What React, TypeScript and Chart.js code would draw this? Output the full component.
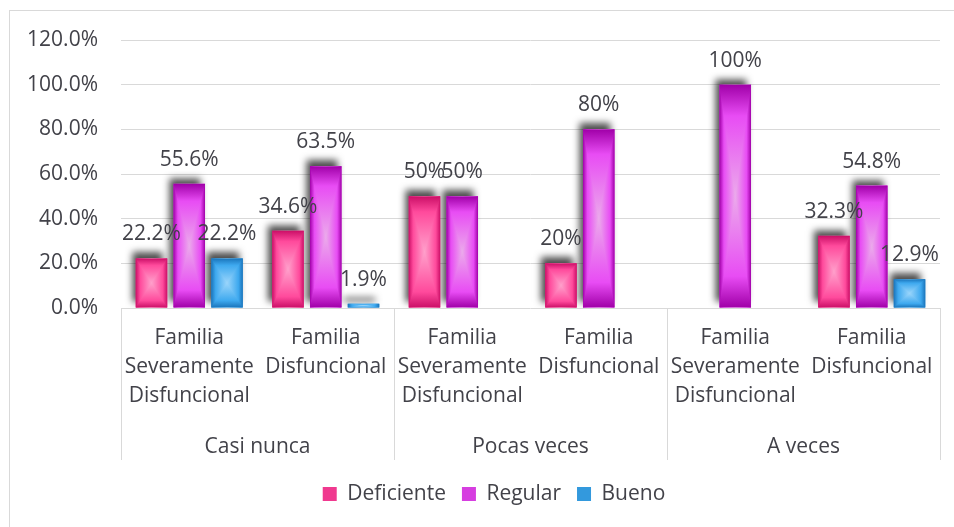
import React, { useEffect, useRef } from "react";
import { Chart, registerables } from "chart.js";

Chart.register(...registerables);

// ---- data ----
const subCategories: string[][] = [
  ["Familia", "Severamente", "Disfuncional"],
  ["Familia", "Disfuncional"],
  ["Familia", "Severamente", "Disfuncional"],
  ["Familia", "Disfuncional"],
  ["Familia", "Severamente", "Disfuncional"],
  ["Familia", "Disfuncional"],
];
const groups = ["Casi nunca", "Pocas veces", "A veces"];
const seriesNames = ["Deficiente", "Regular", "Bueno"];
const deficiente: (number | null)[] = [22.2, 34.6, 50, 20, null, 32.3];
const regular: (number | null)[] = [55.6, 63.5, 50, 80, 100, 54.8];
const bueno: (number | null)[] = [22.2, 1.9, null, null, null, 12.9];
const yMin = 0;
const yMax = 120;
const yStep = 20;

// ---- styles ----
const FONT = "'Open Sans', sans-serif";
const FONT_SIZE = 21;
const TEXT = "#424249";
const GRID = "#d9d9d9";
// [center, mid, edge]
const palettes: string[][] = [
  ["#ffa0cb", "#ff4a9c", "#cb0f67"],
  ["#ebaaeb", "#e84cf4", "#a000a8"],
  ["#9ad5fb", "#3ea9ef", "#1a74bb"],
];
const legendColors = ["#f0398f", "#d63ee0", "#3399dd"];
const STOP_MID = 0.72;

const fmt = (v: number) => (Number.isInteger(v) ? `${v}%` : `${v.toFixed(1)}%`);

function symGradient(ctx: CanvasRenderingContext2D, x0: number, y0: number, x1: number, y1: number, s: string[]) {
  const g = ctx.createLinearGradient(x0, y0, x1, y1);
  g.addColorStop(0, s[2]);
  g.addColorStop((1 - STOP_MID) / 2, s[1]);
  g.addColorStop(0.5, s[0]);
  g.addColorStop((1 + STOP_MID) / 2, s[1]);
  g.addColorStop(1, s[2]);
  return g;
}

// rectangular "path" gradient: contours are rectangles similar to the bar
function pathGradientRect(ctx: CanvasRenderingContext2D, L: number, T: number, R: number, B: number, s: string[]) {
  const w = R - L;
  const h = B - T;
  if (w <= 0 || h <= 0) return;
  const cx = L + w / 2;
  const cy = T + h / 2;
  ctx.save();
  ctx.fillStyle = symGradient(ctx, L, 0, R, 0, s);
  ctx.fillRect(L, T, w, h);
  ctx.beginPath();
  ctx.moveTo(L, T);
  ctx.lineTo(R, T);
  ctx.lineTo(cx, cy);
  ctx.closePath();
  ctx.moveTo(L, B);
  ctx.lineTo(R, B);
  ctx.lineTo(cx, cy);
  ctx.closePath();
  ctx.clip();
  ctx.fillStyle = symGradient(ctx, 0, T, 0, B, s);
  ctx.fillRect(L, T, w, h);
  ctx.restore();
}

const barStylePlugin = {
  id: "barStyle",
  afterLayout(chart: any) {
    const lg = chart.legend;
    if (lg) {
      lg.left += 24;
      lg.right += 24;
    }
  },
  beforeDatasetsDraw(chart: any) {
    const ctx = chart.ctx;
    ctx.save();
    ctx.shadowColor = "rgba(0,0,0,0.7)";
    ctx.shadowBlur = 7;
    ctx.shadowOffsetX = -4;
    ctx.shadowOffsetY = -6;
  },
  afterDatasetsDraw(chart: any) {
    const ctx = chart.ctx;
    ctx.restore();
    chart.data.datasets.forEach((ds: any, di: number) => {
      const meta = chart.getDatasetMeta(di);
      if (meta.hidden) return;
      meta.data.forEach((el: any, i: number) => {
        const v = ds.data[i];
        if (v == null) return;
        const { x, y, base, width } = el.getProps(["x", "y", "base", "width"], true);
        pathGradientRect(ctx, x - width / 2, Math.min(y, base), x + width / 2, Math.max(y, base), palettes[di]);
      });
    });
    // data labels
    ctx.save();
    ctx.font = `${FONT_SIZE}px ${FONT}`;
    ctx.fillStyle = TEXT;
    ctx.textAlign = "center";
    ctx.textBaseline = "alphabetic";
    chart.data.datasets.forEach((ds: any, di: number) => {
      const meta = chart.getDatasetMeta(di);
      meta.data.forEach((el: any, i: number) => {
        const v = ds.data[i];
        if (v == null) return;
        const { x, y } = el.getProps(["x", "y"], true);
        ctx.fillText(fmt(v), x, y - 18);
      });
    });
    ctx.restore();
  },
  afterDraw(chart: any) {
    const xs = chart.scales.x;
    const n = chart.data.labels.length;
    const step = xs.getPixelForValue(1) - xs.getPixelForValue(0);
    const per = n / groups.length;
    const ctx = chart.ctx;
    ctx.save();
    ctx.strokeStyle = GRID;
    ctx.lineWidth = 1;
    const bottom = 460;
    for (let g = 0; g <= groups.length; g++) {
      const idx = g * per;
      const px = Math.round(xs.getPixelForValue(Math.min(idx, n - 1)) + (idx >= n ? step / 2 : -step / 2)) + 0.5;
      ctx.beginPath();
      ctx.moveTo(px, xs.top);
      ctx.lineTo(px, bottom);
      ctx.stroke();
    }
    ctx.restore();
  },
};

export default function App() {
  const ref = useRef<HTMLCanvasElement | null>(null);
  useEffect(() => {
    if (!ref.current) return;
    const series = [deficiente, regular, bueno];
    const chart = new Chart(ref.current, {
      type: "bar",
      data: {
        labels: subCategories as any,
        datasets: series.map((d, i) => ({
          label: seriesNames[i],
          data: d,
          backgroundColor: legendColors[i],
          borderWidth: 0,
          categoryPercentage: 0.83,
          barPercentage: 0.835,
        })),
      },
      options: {
        responsive: false,
        animation: false,
        devicePixelRatio: 1,
        layout: { padding: { top: 40, right: 14, bottom: 12.5, left: 0 } },
        plugins: {
          tooltip: { enabled: false },
          legend: {
            position: "bottom",
            labels: {
              font: { family: FONT, size: FONT_SIZE },
              color: TEXT,
              boxWidth: 14,
              boxHeight: 14,
              padding: 16,
            },
          },
        },
        scales: {
          x: {
            type: "category",
            position: "bottom",
            weight: 0,
            grid: { display: false, drawTicks: false },
            border: { display: false },
            ticks: {
              font: { family: FONT, size: FONT_SIZE, lineHeight: 1.4 },
              color: TEXT,
              padding: 15,
              autoSkip: false,
              maxRotation: 0,
              minRotation: 0,
            },
            afterFit: (s: any) => {
              s.height = 100;
            },
          },
          x2: {
            type: "category",
            position: "bottom",
            weight: 1,
            labels: groups,
            offset: true,
            grid: { display: false, drawTicks: false },
            border: { display: false },
            ticks: {
              font: { family: FONT, size: FONT_SIZE, lineHeight: 1.4 },
              color: TEXT,
              padding: 24,
              autoSkip: false,
              maxRotation: 0,
              minRotation: 0,
            },
            afterFit: (s: any) => {
              s.height = 59.5;
            },
          },
          y: {
            min: yMin,
            max: yMax,
            ticks: {
              stepSize: yStep,
              font: { family: FONT, size: FONT_SIZE },
              color: TEXT,
              padding: 23,
              callback: (v: any) => `${Number(v).toFixed(1)}%`,
            },
            grid: { color: GRID, lineWidth: 1, drawTicks: false },
            border: { display: false },
            afterFit: (s: any) => {
              s.width = 121;
            },
          },
        },
      },
      plugins: [barStylePlugin],
    } as any);
    return () => chart.destroy();
  }, []);

  return (
    <div style={{ position: "fixed", inset: 0, overflow: "hidden", background: "#fff" }}>
      <div
        style={{
          position: "absolute",
          left: 9,
          top: 10,
          width: 2000,
          height: 2000,
          border: `1px solid ${GRID}`,
        }}
      />
      <canvas
        ref={ref}
        width={954}
        height={527}
        style={{ position: "absolute", left: 0, top: 0, width: 954, height: 527, display: "block" }}
      />
    </div>
  );
}
